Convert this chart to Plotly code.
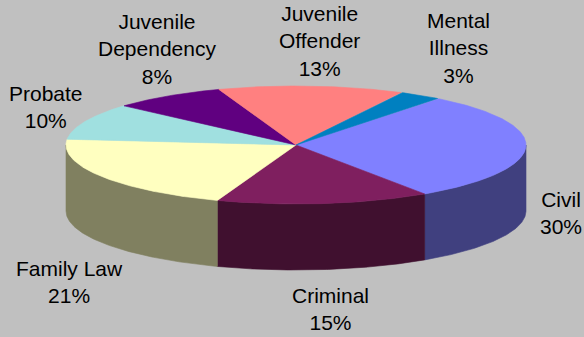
import numpy as np
import plotly.graph_objects as go

# Caseload share by case type, listed clockwise starting from the Civil slice
categories = ["Civil", "Criminal", "Family Law", "Probate",
              "Juvenile Dependency", "Juvenile Offender", "Mental Illness"]
shares = [30, 15, 21, 10, 8, 13, 3]
label_text = ["Civil", "Criminal", "Family Law", "Probate",
              "Juvenile<br>Dependency", "Juvenile<br>Offender", "Mental<br>Illness"]

# Styling
top_colors = ["#8080FF", "#7F1F5F", "#FFFFC0", "#A0E0E0", "#600080", "#FF8080", "#0080C0"]
side_colors = ["#40407F", "#40102F", "#808060", "#50707F", "#300040", "#804040", "#004060"]
BG = "#C0C0C0"
W, H = 584, 337

# Tilted pie geometry (pixel space)
CX, CY = 296, 145          # centre of the top face
RX, RY = 230, 59           # radii of the top ellipse
DEPTH = 66                 # wall thickness
START = 38                 # angle (deg, clockwise from 12 o'clock) of the first slice

# Label block centres (pixel space)
label_xy = {
    "Civil": (561, 213),
    "Criminal": (330, 309),
    "Family Law": (69, 282),
    "Probate": (46, 107),
    "Juvenile Dependency": (157, 49),
    "Juvenile Offender": (319, 41),
    "Mental Illness": (458, 48),
}


def ellipse(theta_deg, dy=0.0):
    t = np.radians(theta_deg)
    return CX + RX * np.sin(t), CY - RY * np.cos(t) + dy


total = float(sum(shares))
spans = [s / total * 360.0 for s in shares]
starts = START + np.concatenate([[0.0], np.cumsum(spans)[:-1]])

fig = go.Figure()

# Front walls: only the part of each slice facing the viewer (90..270 deg)
for name, a0, span, col in zip(categories, starts, spans, side_colors):
    lo, hi = max(a0, 90.0), min(a0 + span, 270.0)
    if hi <= lo:
        continue
    th = np.linspace(lo, hi, 120)
    xt, yt = ellipse(th)
    xb, yb = ellipse(th[::-1], DEPTH)
    fig.add_trace(go.Scatter(
        x=np.concatenate([xt, xb, xt[:1]]), y=np.concatenate([yt, yb, yt[:1]]),
        mode="lines", fill="toself", fillcolor=col,
        line=dict(color=col, width=0.6), hoverinfo="skip", showlegend=False))

# Top faces
for name, a0, span, col in zip(categories, starts, spans, top_colors):
    th = np.linspace(a0, a0 + span, max(int(span * 3), 8))
    xa, ya = ellipse(th)
    fig.add_trace(go.Scatter(
        x=np.concatenate([[CX], xa, [CX]]), y=np.concatenate([[CY], ya, [CY]]),
        mode="lines", fill="toself", fillcolor=col,
        line=dict(color=col, width=0.6), hoverinfo="skip", showlegend=False,
        name=name))

# Category labels with percentages
for name, txt, s in zip(categories, label_text, shares):
    lx, ly = label_xy[name]
    fig.add_annotation(
        x=lx, y=ly, xref="x", yref="y", text=f"{txt}<br>{s}%",
        showarrow=False, xanchor="center", yanchor="middle", align="center",
        font=dict(family="Liberation Sans, Arial, sans-serif", size=21, color="#000000"))

fig.update_layout(
    width=W, height=H, margin=dict(l=0, r=0, t=0, b=0),
    paper_bgcolor=BG, plot_bgcolor=BG, showlegend=False,
    xaxis=dict(range=[0, W], visible=False, fixedrange=True),
    yaxis=dict(range=[H, 0], visible=False, fixedrange=True),
)

fig.write_html("out.html", config={"displayModeBar": False})
